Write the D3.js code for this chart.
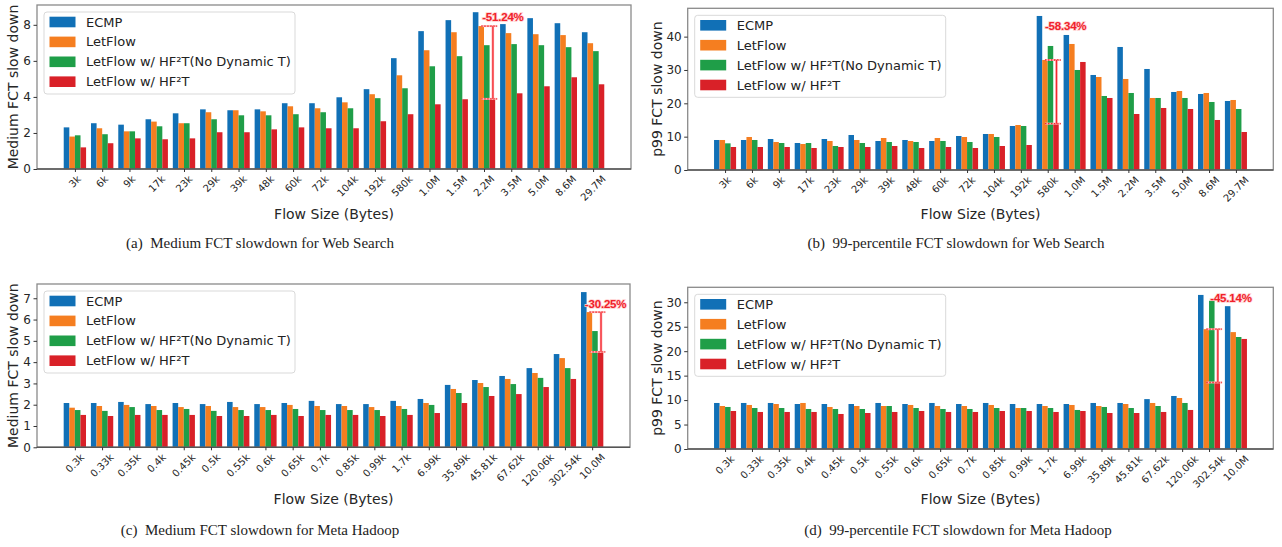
<!DOCTYPE html>
<html><head><meta charset="utf-8">
<script src="https://cdn.jsdelivr.net/npm/d3@7"></script>
<style>
body{margin:0;background:#fff;}
svg text{font-family:"DejaVu Sans",sans-serif;}
</style></head>
<body><svg id="c" width="1282" height="547"></svg>
<script>
// ---------- data ----------
const categoriesWeb = ["3k","6k","9k","17k","23k","29k","39k","48k","60k","72k","104k","192k","580k","1.0M","1.5M","2.2M","3.5M","5.0M","8.6M","29.7M"];
const categoriesHadoop = ["0.3k","0.33k","0.35k","0.4k","0.45k","0.5k","0.55k","0.6k","0.65k","0.7k","0.85k","0.99k","1.7k","6.99k","35.89k","45.81k","67.62k","120.06k","302.54k","10.0M"];
const seriesNames = ["ECMP","LetFlow","LetFlow w/ HF\u00B2T(No Dynamic T)","LetFlow w/ HF\u00B2T"];
const seriesColors = ["#1170b6","#f57e20","#1f9e48","#d92128"];

// (a) Medium FCT, Web Search
const webMedEcmp    = [2.31,2.54,2.46,2.76,3.09,3.31,3.26,3.31,3.65,3.65,3.98,4.43,6.15,7.65,8.26,8.70,8.04,8.37,8.09,7.59];
const webMedLetflow = [1.80,2.26,2.09,2.63,2.54,3.15,3.26,3.20,3.48,3.37,3.70,4.15,5.20,6.59,7.59,7.93,7.54,7.48,7.43,6.98];
const webMedNoDyn   = [1.87,1.93,2.09,2.37,2.54,2.76,2.98,2.98,3.04,3.15,3.37,3.93,4.48,5.70,6.26,6.87,6.93,6.87,6.76,6.54];
const webMedHf2t    = [1.20,1.43,1.70,1.65,1.70,2.04,2.04,2.20,2.31,2.26,2.26,2.65,3.04,3.59,3.87,3.89,4.20,4.59,5.09,4.70];
// (b) p99 FCT, Web Search
const webP99Ecmp    = [9.0,9.0,9.3,8.1,9.3,10.5,8.7,9.0,8.7,10.2,10.8,13.2,46.2,40.5,28.5,36.9,30.3,23.4,22.8,20.7];
const webP99Letflow = [9.0,9.9,8.4,7.8,8.7,9.0,9.6,8.7,9.6,9.9,10.8,13.5,33.0,37.8,27.9,27.3,21.6,23.7,23.1,21.0];
const webP99NoDyn   = [8.0,9.0,8.1,8.1,7.2,8.1,8.4,8.4,8.7,8.4,9.9,13.2,37.2,30.0,22.2,23.1,21.6,21.6,20.4,18.3];
const webP99Hf2t    = [6.9,6.9,6.9,6.6,6.9,6.9,7.2,6.6,6.9,6.6,7.2,7.5,13.9,32.4,21.6,16.8,18.6,18.3,15.0,11.4];
// (c) Medium FCT, Meta Hadoop
const hadMedEcmp    = [2.08,2.08,2.13,2.03,2.08,2.03,2.13,2.03,2.08,2.18,2.03,2.03,2.18,2.27,2.93,3.16,3.35,3.72,4.38,7.29];
const hadMedLetflow = [1.86,1.94,1.99,1.94,1.89,1.94,1.89,1.89,1.99,1.94,1.94,1.89,1.94,2.08,2.74,3.02,3.21,3.49,4.19,6.35];
const hadMedNoDyn   = [1.75,1.71,1.89,1.75,1.80,1.71,1.75,1.75,1.80,1.75,1.75,1.75,1.80,1.99,2.55,2.83,2.97,3.26,3.72,5.46];
const hadMedHf2t    = [1.52,1.47,1.52,1.52,1.52,1.47,1.47,1.52,1.47,1.52,1.52,1.47,1.52,1.61,2.08,2.41,2.50,2.83,3.21,4.48];
// (d) p99 FCT, Meta Hadoop
const hadP99Ecmp    = [9.41,9.41,9.41,9.2,9.2,9.2,9.41,9.2,9.41,9.2,9.41,9.2,9.2,9.2,9.41,9.41,10.2,10.84,31.5,29.2];
const hadP99Letflow = [8.79,9.0,9.2,9.41,8.59,8.79,8.79,9.0,8.79,8.79,9.0,8.38,8.79,9.0,8.79,9.2,9.41,10.43,24.5,23.9];
const hadP99NoDyn   = [8.59,8.38,8.38,8.18,8.18,8.18,8.79,8.38,8.18,8.18,8.38,8.38,8.38,7.98,8.59,8.38,8.79,9.41,30.3,22.9];
const hadP99Hf2t    = [7.77,7.57,7.57,7.57,7.16,7.36,7.57,7.77,7.57,7.57,7.77,7.77,7.57,7.77,7.36,7.36,7.57,7.98,13.6,22.5];

const ticksA = [0,2,4,6,8];
const ticksB = [0,10,20,30,40];
const ticksC = [0,1,2,3,4,5,6,7];
const ticksD = [0,5,10,15,20,25,30];

// annotation: category, text, text y (data units)
const annotA = {cat:"2.2M", text:"-51.24%", ty:8.22};
const annotB = {cat:"580k", text:"-58.34%", ty:42};
const annotC = {cat:"10.0M", text:"-30.25%", ty:6.54};
const annotD = {cat:"302.54k", text:"-45.14%", ty:30};

const yLabelMed = "Medium FCT slow down";
const yLabelP99 = "p99 FCT slow down";
const xLabel = "Flow Size (Bytes)";

// ---------- layout ----------
const panels = [
  {cats:categoriesWeb, series:[webMedEcmp,webMedLetflow,webMedNoDyn,webMedHf2t], ticks:ticksA, ymax:9.1,
   x0:37, x1:631, top:5, base:169, ylab:yLabelMed, ylx:13, xly:219, annot:annotA, adx:1,
   cap:"(a)  Medium FCT slowdown for Web Search", capx:260, capy:248},
  {cats:categoriesWeb, series:[webP99Ecmp,webP99Letflow,webP99NoDyn,webP99Hf2t], ticks:ticksB, ymax:48.5,
   x0:687.7, x1:1273.3, top:8.3, base:170, ylab:yLabelP99, ylx:657, xly:218.5, annot:annotB, adx:0,
   cap:"(b)  99-percentile FCT slowdown for Web Search", capx:956, capy:248},
  {cats:categoriesHadoop, series:[hadMedEcmp,hadMedLetflow,hadMedNoDyn,hadMedHf2t], ticks:ticksC, ymax:7.67,
   x0:37, x1:630, top:284, base:447.3, ylab:yLabelMed, ylx:13, xly:504, annot:annotC, adx:-4.5,
   cap:"(c)  Medium FCT slowdown for Meta Hadoop", capx:260, capy:535},
  {cats:categoriesHadoop, series:[hadP99Ecmp,hadP99Letflow,hadP99NoDyn,hadP99Hf2t], ticks:ticksD, ymax:33.06,
   x0:687.7, x1:1273.3, top:287.3, base:449, ylab:yLabelP99, ylx:657, xly:504, annot:annotD, adx:4,
   cap:"(d)  99-percentile FCT slowdown for Meta Hadoop", capx:958, capy:535}
];

const svg = d3.select("#c");
const textCol = "#262626";

panels.forEach(p => {
  const g = svg.append("g");
  const x = d3.scalePoint().domain(p.cats).range([p.x0, p.x1]).padding(1.39);
  const step = x.step();
  const bw = step * 0.205;
  const y = d3.scaleLinear().domain([0, p.ymax]).range([p.base, p.top]);

  // bars
  p.series.forEach((vals, si) => {
    g.append("g").selectAll("rect").data(vals).join("rect")
      .attr("x", (d,i) => x(p.cats[i]) + (si - 2) * bw)
      .attr("width", bw)
      .attr("y", d => y(d))
      .attr("height", d => y(0) - y(d))
      .attr("fill", seriesColors[si]);
  });

  // frame
  g.append("rect").attr("x", p.x0).attr("y", p.top).attr("width", p.x1 - p.x0).attr("height", p.base - p.top)
    .attr("fill", "none").attr("stroke", "#8a8a8a").attr("stroke-width", 1.3);
  g.append("line").attr("x1", p.x0).attr("x2", p.x1).attr("y1", p.base).attr("y2", p.base)
    .attr("stroke", "#555").attr("stroke-width", 1.6);

  // y axis
  const ya = d3.axisLeft(y).tickValues(p.ticks).tickSize(3.5).tickPadding(2.5).tickFormat(d3.format("d"));
  const yg = g.append("g").attr("transform", `translate(${p.x0},0)`).call(ya);
  yg.select(".domain").remove();
  yg.selectAll("line").attr("stroke", "#333");
  yg.selectAll("text").attr("font-size", 12).attr("fill", textCol).style("font-family", "DejaVu Sans");

  // x ticks
  const xa = d3.axisBottom(x).tickSize(3).tickFormat("");
  const xg = g.append("g").attr("transform", `translate(0,${p.base})`).call(xa);
  xg.select(".domain").remove();
  xg.selectAll("line").attr("stroke", "#333");
  // rotated labels, centered like ha='center'
  const fs = 10;
  p.cats.forEach(c => {
    const t = g.append("text").text(c).attr("font-size", fs).attr("fill", textCol)
      .attr("text-anchor", "middle").attr("dominant-baseline", "central");
    const w = t.node().getComputedTextLength();
    const box = (w + fs * 0.75) / Math.SQRT2;
    const cx = x(c), cy = p.base + 5.5 + box / 2;
    t.attr("x", cx).attr("y", cy).attr("transform", `rotate(-45,${cx},${cy})`);
  });

  // axis labels
  g.append("text").text(p.ylab).attr("font-size", 14).attr("fill", textCol).attr("text-anchor", "middle")
    .attr("dominant-baseline", "central")
    .attr("transform", `translate(${p.ylx},${(p.top + p.base) / 2}) rotate(-90)`);
  g.append("text").text(xLabel).attr("font-size", 14).attr("fill", textCol).attr("text-anchor", "middle")
    .attr("x", (p.x0 + p.x1) / 2).attr("y", p.xly);

  // legend
  const lx = p.x0 + 7, ly = p.top + 7;
  const lg = g.append("g");
  lg.append("rect").attr("x", lx).attr("y", ly).attr("width", 251).attr("height", 82).attr("rx", 3)
    .attr("fill", "#fff").attr("fill-opacity", 0.85).attr("stroke", "#d9d9d9").attr("stroke-width", 1);
  seriesNames.forEach((n, i) => {
    const cy = ly + 10 + i * 19.9;
    lg.append("rect").attr("x", lx + 5.5).attr("y", cy - 5.3).attr("width", 26).attr("height", 10.6).attr("fill", seriesColors[i]);
    lg.append("text").text(n).attr("x", lx + 42).attr("y", cy).attr("dominant-baseline", "central")
      .attr("font-size", 13).attr("fill", "#222");
  });

  // annotation
  const a = p.annot;
  const ai = p.cats.indexOf(a.cat);
  const cxg = x(a.cat);
  const yTop = y(p.series[1][ai]), yBot = y(p.series[3][ai]);
  const hx0 = cxg - 0.5 * bw, hx1 = cxg + 2 * bw + 2, vx = cxg + 1.5 * bw + 0.5;
  [yTop, yBot].forEach(yy => {
    g.append("line").attr("x1", hx0).attr("x2", hx1).attr("y1", yy).attr("y2", yy)
      .attr("stroke", "#ffb3b3").attr("stroke-width", 2);
    g.append("line").attr("x1", hx0).attr("x2", hx1).attr("y1", yy).attr("y2", yy)
      .attr("stroke", "#f0282e").attr("stroke-width", 1.3).attr("stroke-dasharray", "1.5,1.5");
  });
  g.append("line").attr("x1", vx).attr("x2", vx).attr("y1", yTop).attr("y2", yBot)
    .attr("stroke", "#ff8a8f").attr("stroke-width", 2.4);
  g.append("line").attr("x1", vx).attr("x2", vx).attr("y1", yTop).attr("y2", yBot)
    .attr("stroke", "#f0282e").attr("stroke-width", 1);
  g.append("text").text(a.text).attr("x", hx0 + p.adx).attr("y", y(a.ty))
    .style("font-family", "Liberation Sans, Arial, sans-serif").attr("font-weight", "bold")
    .attr("font-size", 11.5).attr("letter-spacing", -0.2).attr("fill", "#f0212a")
    .attr("stroke", "#ffd0d0").attr("stroke-width", 1.6).attr("paint-order", "stroke");

  // caption
  svg.append("text").text(p.cap).attr("x", p.capx).attr("y", p.capy).attr("text-anchor", "middle")
    .style("font-family", "Liberation Serif, serif").attr("font-size", 15).attr("fill", "#222")
    .attr("xml:space", "preserve").style("white-space", "pre");
});
</script></body></html>
